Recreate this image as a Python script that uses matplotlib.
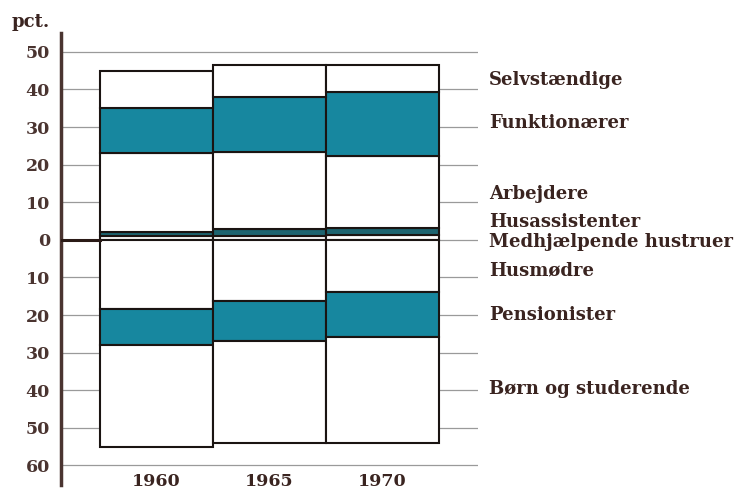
import matplotlib.pyplot as plt
import numpy as np

plt.rcParams['font.family'] = ['DejaVu Serif']
plt.rcParams['font.weight'] = 'bold'

years = ['1960', '1965', '1970']

# above zero (pct.)
medhjaelpende = [1.0, 0.9, 1.3]
husassistenter = [1.0, 2.0, 1.8]
arbejdere = [21.0, 20.4, 19.3]
funktionaerer = [12.0, 14.6, 16.9]
selvstaendige = [10.0, 8.6, 7.1]

# below zero (pct.)
husmoedre = [18.5, 16.4, 13.9]
pensionister = [9.5, 10.4, 12.0]
boern = [27.1, 27.2, 28.1]

labels = ['Selvstændige', 'Funktionærer', 'Arbejdere', 'Husassistenter',
          'Medhjælpende hustruer', 'Husmødre', 'Pensionister', 'Børn og studerende']
label_y = [42.6, 31.1, 12.2, 4.8, -0.5, -8.2, -19.9, -39.6]

teal = '#17879f'
darkteal = '#1d6470'
ink = '#3a2420'

fig = plt.figure(figsize=(7.42, 4.90), dpi=100)
ax = fig.add_axes([61/742, 5/490, (478-61)/742, (485-33)/490])

x = np.arange(len(years))
up = [(medhjaelpende, 'white'), (husassistenter, darkteal), (arbejdere, 'white'),
      (funktionaerer, teal), (selvstaendige, 'white')]
down = [(husmoedre, 'white'), (pensionister, teal), (boern, 'white')]

bottom = np.zeros(3)
for vals, col in up:
    ax.bar(x, vals, width=1.0, bottom=bottom, color=col, edgecolor='#1a1412',
           linewidth=1.5, zorder=3)
    bottom += np.array(vals)

bottom = np.zeros(3)
for vals, col in down:
    ax.bar(x, -np.array(vals), width=1.0, bottom=bottom, color=col,
           edgecolor='#1a1412', linewidth=1.5, zorder=3)
    bottom -= np.array(vals)

ax.set_xlim(-0.845, 2.845)
ax.set_ylim(-65.2, 55)

ticks = [50, 40, 30, 20, 10, 0, -10, -20, -30, -40, -50, -60]
for t in ticks:
    ax.axhline(t, color='#9a9a9a', lw=0.9, zorder=1)
# dark zero line between axis and first bar
ax.plot([-0.845, -0.5], [0, 0], color='#2a1a16', lw=2.2, zorder=4)

ax.set_yticks(ticks)
ax.set_yticklabels([str(abs(t)) for t in ticks], fontsize=12.5, color='#4a3430')
ax.tick_params(axis='y', length=0, pad=8)
ax.set_xticks(x)
ax.set_xticklabels(years, fontsize=12.5, color=ink)
ax.tick_params(axis='x', length=0, pad=-9)

for s in ['top', 'right', 'bottom']:
    ax.spines[s].set_visible(False)
ax.spines['left'].set_color('#4a3430')
ax.spines['left'].set_linewidth(2.5)

for lab, ly in zip(labels, label_y):
    ax.text(2.94, ly, lab, fontsize=13, color=ink, va='center', ha='left',
            clip_on=False)

fig.text(12/742, 1 - 22/490, 'pct.', fontsize=13, color=ink, va='center', ha='left')

fig.savefig('out.png', dpi=100, facecolor='white')
